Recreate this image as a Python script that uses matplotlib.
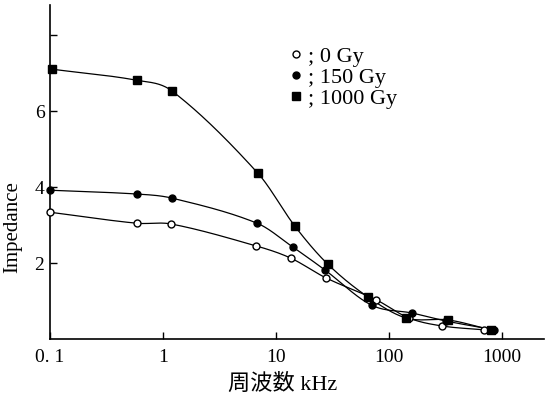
import numpy as np
import matplotlib
matplotlib.use('Agg')
import matplotlib.pyplot as plt

plt.rcParams['font.family'] = ['Liberation Serif', 'Noto Sans CJK JP']

# data (frequency in kHz, impedance)
freq_0 = [0.1, 0.585, 1.18, 6.7, 13.5, 27.6, 77, 150, 296, 690]
imp_0 = [3.34, 3.05, 3.03, 2.45, 2.13, 1.61, 1.03, 0.55, 0.34, 0.24]

freq_150 = [0.1, 0.585, 1.21, 6.8, 14.1, 27, 70, 161, 321, 850]
imp_150 = [3.92, 3.82, 3.71, 3.05, 2.42, 1.82, 0.89, 0.68, 0.47, 0.24]

freq_1000 = [0.105, 0.585, 1.21, 6.9, 14.7, 28.7, 64.7, 142, 334, 790]
imp_1000 = [7.11, 6.82, 6.53, 4.37, 2.97, 1.97, 1.11, 0.55, 0.50, 0.24]

x_ticks = [0.1, 1, 10, 100, 1000]
x_labels = ['0. 1', '1', '10', '100', '1000']
y_ticks = [2, 4, 6, 8]
y_labels = ['2', '4', '6', '']


def smooth(x, y, xs):
    # cubic hermite curve with catmull-rom tangents
    x = np.asarray(x, float)
    y = np.asarray(y, float)
    n = len(x)
    h = np.diff(x)
    m = np.zeros(n)
    m[1:-1] = (y[2:] - y[:-2]) / (x[2:] - x[:-2])
    m[0] = (y[1] - y[0]) / h[0]
    m[-1] = (y[-1] - y[-2]) / h[-1]
    idx = np.clip(np.searchsorted(x, xs) - 1, 0, n - 2)
    t = (xs - x[idx]) / h[idx]
    h00 = 2 * t**3 - 3 * t**2 + 1
    h10 = t**3 - 2 * t**2 + t
    h01 = -2 * t**3 + 3 * t**2
    h11 = t**3 - t**2
    return (h00 * y[idx] + h10 * h[idx] * m[idx]
            + h01 * y[idx + 1] + h11 * h[idx] * m[idx + 1])


fig = plt.figure(figsize=(5.49, 3.95), dpi=100)
ax = fig.add_axes([0.091, 0.142, 0.90, 0.845])

series = [
    (freq_0, imp_0, 'o', 'white', 5.0, '; 0 Gy'),
    (freq_150, imp_150, 'o', 'black', 5.0, '; 150 Gy'),
    (freq_1000, imp_1000, 's', 'black', 6.0, '; 1000 Gy'),
]

for fx, fy, mk, fc, ms, lab in series:
    lx = np.log10(fx)
    xs = np.linspace(lx[0], lx[-1], 400)
    ax.plot(10**xs, smooth(lx, fy, xs), color='black', lw=0.9)
    ax.plot(fx, fy, linestyle='none', marker=mk, markerfacecolor=fc,
            markeredgecolor='black', markersize=ms, markeredgewidth=1.0,
            label=lab, clip_on=False, zorder=3)

ax.set_xscale('log')
ax.set_xlim(0.1, 2350)
ax.set_ylim(0, 8.8)
ax.set_xticks(x_ticks)
ax.set_xticklabels(x_labels)
ax.set_yticks(y_ticks)
ax.set_yticklabels(y_labels)
ax.minorticks_off()
ax.tick_params(direction='in', length=5, width=1, labelsize=14)
ax.tick_params(axis='x', pad=7)
ax.tick_params(axis='y', pad=4)

for s in ['top', 'right']:
    ax.spines[s].set_visible(False)
for s in ['left', 'bottom']:
    ax.spines[s].set_linewidth(1.2)

ax.set_xlabel('周波数 kHz', fontsize=16, labelpad=3)
ax.xaxis.set_label_coords(0.47, -0.105)
fig.text(0.024, 0.31, 'Impedance', rotation=90, fontsize=15,
         ha='center', va='bottom')

ax.legend(loc='upper left', bbox_to_anchor=(0.462, 0.91), frameon=False,
          fontsize=16, handlelength=0.6, handletextpad=0.25,
          labelspacing=0.02, borderpad=0)

fig.savefig('out.png', dpi=100)
